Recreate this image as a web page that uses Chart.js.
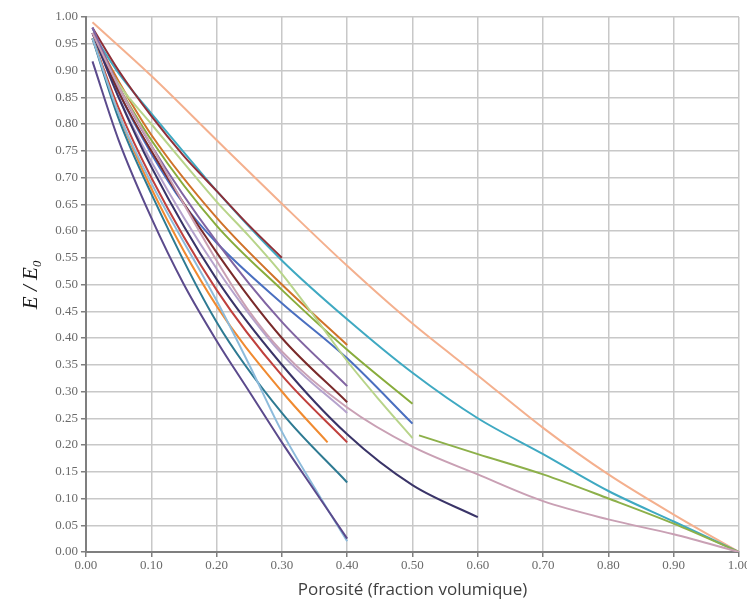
<!DOCTYPE html>
<html>
<head>
<meta charset="utf-8">
<script src="https://cdn.jsdelivr.net/npm/chart.js@4/dist/chart.umd.min.js"></script>
<style>
html,body{margin:0;padding:0;background:#fff;}
#wrap{width:747px;height:609px;position:relative;}
</style>
</head>
<body>
<div id="wrap"><canvas id="c" width="747" height="609"></canvas></div>
<script>
// Tick labels
const xTicks = [0,0.1,0.2,0.3,0.4,0.5,0.6,0.7,0.8,0.9,1.0];
// Series (x = porosity, y = E/E0)
const xPeach = [0.01,0.1,0.2,0.3,0.4,0.5,0.6,0.7,0.8,0.9,1.0];
const yPeach = [0.99,0.89,0.77,0.651,0.535,0.427,0.33,0.232,0.145,0.07,0.0];
const xCyan = [0.01,0.05,0.1,0.15,0.2,0.3,0.4,0.5,0.6,0.7,0.8,0.9,1.0];
const yCyan = [0.97,0.895,0.82,0.747,0.675,0.545,0.435,0.335,0.25,0.183,0.114,0.057,0.0];
const xDarkRed = [0.01,0.05,0.1,0.15,0.2,0.25,0.3];
const yDarkRed = [0.98,0.90,0.815,0.74,0.675,0.61,0.55];
const xOrangeBrown = [0.01,0.05,0.1,0.2,0.3,0.4];
const yOrangeBrown = [0.97,0.88,0.78,0.625,0.50,0.387];
const xOlive = [0.01,0.05,0.1,0.2,0.3,0.4,0.5];
const yOlive = [0.96,0.87,0.77,0.61,0.49,0.378,0.277];
const xBlue = [0.01,0.05,0.1,0.15,0.2,0.3,0.4,0.5];
const yBlue = [0.98,0.86,0.745,0.65,0.578,0.465,0.362,0.24];
const xLightGreen = [0.01,0.05,0.1,0.15,0.2,0.25,0.3,0.35,0.4,0.45,0.5];
const yLightGreen = [0.96,0.875,0.80,0.727,0.655,0.59,0.52,0.44,0.357,0.283,0.213];
const xGreen2 = [0.51,0.6,0.7,0.8,0.9,1.0];
const yGreen2 = [0.218,0.183,0.145,0.10,0.053,0.0];
const xPink = [0.01,0.05,0.1,0.15,0.2,0.25,0.3,0.4,0.5,0.6,0.7,0.8,0.9,1.0];
const yPink = [0.97,0.87,0.76,0.65,0.545,0.45,0.375,0.27,0.197,0.145,0.095,0.061,0.033,0.0];
const xLightPurple = [0.01,0.05,0.1,0.2,0.3,0.4];
const yLightPurple = [0.97,0.85,0.73,0.53,0.37,0.26];
const xMaroon = [0.01,0.05,0.1,0.2,0.3,0.4];
const yMaroon = [0.97,0.86,0.75,0.56,0.40,0.28];
const xNavy = [0.01,0.05,0.1,0.2,0.3,0.4,0.5,0.6];
const yNavy = [0.97,0.85,0.72,0.51,0.35,0.22,0.125,0.065];
const xRed = [0.01,0.05,0.1,0.2,0.3,0.4];
const yRed = [0.96,0.83,0.70,0.49,0.33,0.205];
const xOrange = [0.01,0.05,0.1,0.2,0.3,0.37];
const yOrange = [0.96,0.82,0.68,0.46,0.30,0.205];
const xTeal = [0.01,0.05,0.1,0.2,0.3,0.4];
const yTeal = [0.96,0.81,0.67,0.43,0.26,0.13];
const xLightBlue = [0.01,0.05,0.1,0.2,0.25,0.3,0.35,0.4];
const yLightBlue = [0.96,0.82,0.69,0.47,0.35,0.225,0.12,0.02];
const xPurple = [0.01,0.05,0.1,0.15,0.2,0.25,0.3,0.35,0.4];
const yPurple = [0.917,0.77,0.625,0.50,0.395,0.30,0.205,0.115,0.025];
const xMedPurple = [0.01,0.05,0.1,0.2,0.3,0.4];
const yMedPurple = [0.98,0.87,0.76,0.58,0.43,0.31];

function pts(xs, ys){ return xs.map((x,i)=>({x:x, y:ys[i]})); }
function ds(xs, ys, color, w){
  return {data:pts(xs,ys), borderColor:color, backgroundColor:color, borderWidth:w||2,
    showLine:true, pointRadius:0, fill:false, cubicInterpolationMode:'monotone'};
}
const datasets = [
  ds(xPink,yPink,'#C9A0B4'),
  ds(xGreen2,yGreen2,'#8DB04A'),
  ds(xPurple,yPurple,'#5B4A8C'),
  ds(xLightBlue,yLightBlue,'#8DBBDB'),
  ds(xTeal,yTeal,'#2E7A92'),
  ds(xOrange,yOrange,'#F08A30'),
  ds(xRed,yRed,'#C0403D'),
  ds(xNavy,yNavy,'#3A3468'),
  ds(xMaroon,yMaroon,'#7A2A2A'),
  ds(xLightPurple,yLightPurple,'#B5A2CC'),
  ds(xMedPurple,yMedPurple,'#8064A2'),
  ds(xLightGreen,yLightGreen,'#B8D48A'),
  ds(xBlue,yBlue,'#4A6FC0'),
  ds(xOlive,yOlive,'#88AC3C'),
  ds(xOrangeBrown,yOrangeBrown,'#D0722A'),
  ds(xDarkRed,yDarkRed,'#8E2F38'),
  ds(xCyan,yCyan,'#3FA9C2'),
  ds(xPeach,yPeach,'#F4B08E')
];

new Chart(document.getElementById('c'), {
  type:'scatter',
  data:{datasets:datasets},
  options:{
    responsive:false,
    animation:false,
    layout:{padding:{left:19,right:8,top:17,bottom:9}},
    plugins:{legend:{display:false}, tooltip:{enabled:false}},
    scales:{
      x:{
        type:'linear', min:0, max:1,
        afterBuildTicks:(s)=>{ s.ticks = xTicks.map(v=>({value:v})); },
        afterFit:(s)=>{ s.paddingRight = 0; },
        ticks:{callback:(v)=>Number(v).toFixed(2), color:'#6a6a6a', font:{family:'Liberation Serif', size:13}, padding:1, maxRotation:0, autoSkip:false},
        grid:{color:'#C8C8C8', lineWidth:1.5, tickLength:5, tickColor:'#7F7F7F'},
        border:{color:'#7F7F7F', width:2},
        title:{display:true, text:'Porosité (fraction volumique)', color:'#404040', font:{family:'Open Sans', size:17}, padding:{top:5,bottom:0}}
      },
      y:{
        type:'linear', min:0, max:1,
        ticks:{stepSize:0.05, callback:(v)=>Number(v).toFixed(2), color:'#6a6a6a', font:{family:'Liberation Serif', size:13}, padding:3, autoSkip:false},
        grid:{color:'#C8C8C8', lineWidth:1.5, tickLength:5, tickColor:'#7F7F7F'},
        border:{color:'#7F7F7F', width:2},
        title:{display:true, text:'E / E₀', color:'#1a1a1a', font:{family:'Liberation Serif', size:21, style:'italic'}, padding:{top:0,bottom:8}}
      }
    }
  }
});
</script>
</body>
</html>
